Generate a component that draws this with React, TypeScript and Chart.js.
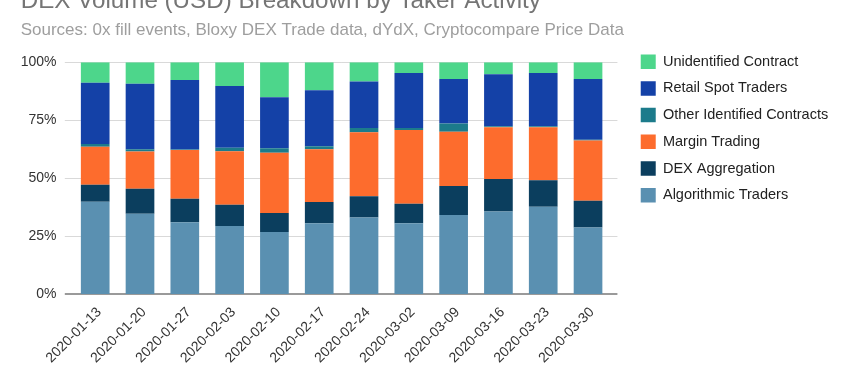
import { useEffect, useRef } from "react";
import { Chart, registerables } from "chart.js";

Chart.register(...registerables);

const TITLE = "DEX Volume (USD) Breakdown by Taker Activity";
const SUBTITLE = "Sources: 0x fill events, Bloxy DEX Trade data, dYdX, Cryptocompare Price Data";

const weeks = [
  "2020-01-13", "2020-01-20", "2020-01-27", "2020-02-03", "2020-02-10", "2020-02-17",
  "2020-02-24", "2020-03-02", "2020-03-09", "2020-03-16", "2020-03-23", "2020-03-30",
];

// shares in % (stacked bottom -> top)
const algorithmicTraders = [39.8, 34.6, 30.9, 29.3, 26.7, 30.5, 33.0, 30.5, 34.1, 35.6, 37.6, 28.7];
const dexAggregation = [7.3, 10.8, 10.2, 9.2, 8.2, 9.2, 9.2, 8.4, 12.5, 14.0, 11.5, 11.5];
const marginTrading = [16.4, 16.1, 21.0, 23.1, 26.0, 22.8, 27.6, 31.9, 23.4, 22.4, 22.9, 26.0];
const otherIdentifiedContracts = [1.2, 1.0, 0.3, 1.5, 2.0, 1.2, 1.8, 0.8, 3.6, 0.4, 0.4, 0.3];
const retailSpotTraders = [26.5, 28.2, 29.9, 26.6, 22.0, 24.2, 20.1, 23.8, 19.2, 22.4, 23.0, 26.3];
const unidentifiedContract = [8.8, 9.3, 7.7, 10.3, 15.1, 12.1, 8.3, 4.6, 7.2, 5.2, 4.6, 7.2];

const yTickValues = [0, 25, 50, 75, 100];

const FONT = '"Liberation Sans", Arial, Helvetica, sans-serif';

const gridPlugin = {
  id: "extendedGrid",
  beforeDatasetsDraw(chart: any) {
    const { ctx, chartArea, scales } = chart;
    const y = scales.y;
    ctx.save();
    y.ticks.forEach((t: any) => {
      const py = Math.round(y.getPixelForValue(t.value));
      ctx.beginPath();
      if (t.value === 0) {
        ctx.strokeStyle = "#9a9a9a";
        ctx.lineWidth = 2;
        ctx.moveTo(chartArea.left - 8, py);
        ctx.lineTo(chartArea.right + 7, py);
      } else {
        ctx.strokeStyle = "#d9d9d9";
        ctx.lineWidth = 1;
        ctx.moveTo(chartArea.left - 8, py + 0.5);
        ctx.lineTo(chartArea.right + 7, py + 0.5);
      }
      ctx.stroke();
    });
    ctx.restore();
  },
};

export default function App() {
  const ref = useRef<HTMLCanvasElement | null>(null);

  useEffect(() => {
    if (!ref.current) return;
    Chart.defaults.font.family = FONT;
    const chart = new Chart(ref.current, {
      type: "bar",
      data: {
        labels: weeks,
        datasets: [
          { label: "Algorithmic Traders", data: algorithmicTraders, backgroundColor: "#5a90b1" },
          { label: "DEX Aggregation", data: dexAggregation, backgroundColor: "#0b3e5e" },
          { label: "Margin Trading", data: marginTrading, backgroundColor: "#fd6c2d" },
          { label: "Other Identified Contracts", data: otherIdentifiedContracts, backgroundColor: "#1c7b8b" },
          { label: "Retail Spot Traders", data: retailSpotTraders, backgroundColor: "#1441a7" },
          { label: "Unidentified Contract", data: unidentifiedContract, backgroundColor: "#4dd68b" },
        ],
      },
      options: {
        responsive: false,
        animation: false,
        layout: { padding: { left: 20.7, right: 11.8, top: 0, bottom: 16.5 } },
        datasets: { bar: { barPercentage: 0.64, categoryPercentage: 1, borderWidth: 0 } },
        plugins: {
          title: {
            display: true,
            text: TITLE,
            align: "start",
            color: "#757575",
            font: { size: 24.2, weight: "normal", lineHeight: 1.2 },
            padding: { top: 6.8, bottom: 0 },
          },
          subtitle: {
            display: true,
            text: SUBTITLE,
            align: "start",
            color: "#9e9e9e",
            font: { size: 17, weight: "normal", lineHeight: 1.2 },
            padding: { top: 4, bottom: 22 },
          },
          legend: {
            position: "right",
            align: "start",
            reverse: true,
            maxWidth: 260,
            title: { display: true, text: "", font: { size: 12, lineHeight: 1.2 }, padding: { top: 47.85, bottom: 0 } },
            labels: {
              boxWidth: 15,
              boxHeight: 14.5,
              padding: 12.2,
              color: "#222222",
              font: { size: 14.5 },
            },
          },
          tooltip: { enabled: false },
        },
        scales: {
          x: {
            stacked: true,
            grid: { display: false, drawTicks: true, tickLength: 10 },
            border: { display: false },
            ticks: {
              minRotation: 45,
              maxRotation: 45,
              autoSkip: false,
              padding: 0,
              labelOffset: 4,
              color: "#333333",
              font: { size: 14 },
            },
          },
          y: {
            stacked: true,
            min: 0,
            max: 100,
            afterBuildTicks: (axis: any) => {
              axis.ticks = yTickValues.map((v) => ({ value: v }));
            },
            grid: { display: false, drawTicks: true, tickLength: 16.3 },
            border: { display: false },
            ticks: {
              padding: 0,
              color: "#333333",
              font: { size: 14 },
              callback: (v: any) => v + "%",
            },
          },
          y2: {
            type: "linear",
            position: "right",
            display: true,
            grid: { display: false, drawTicks: true, tickLength: 18.1 },
            border: { display: false },
            ticks: { display: false },
          },
        },
      },
      plugins: [gridPlugin],
    } as any);
    return () => chart.destroy();
  }, []);

  return (
    <div style={{ position: "absolute", left: 0, top: -20, width: 850, height: 403 }}>
      <canvas ref={ref} width={850} height={403} style={{ width: 850, height: 403, display: "block" }} />
    </div>
  );
}
